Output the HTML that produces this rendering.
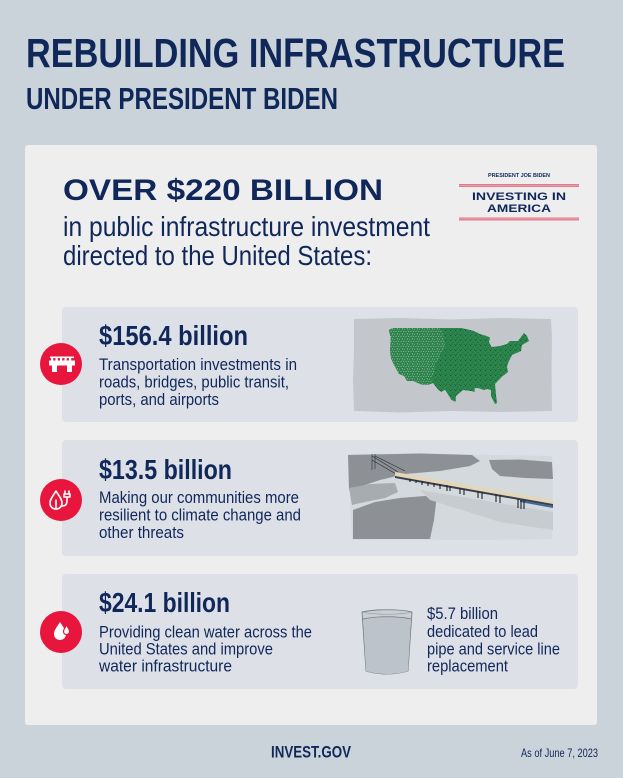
<!DOCTYPE html>
<html>
<head>
<meta charset="utf-8">
<style>
  html,body{margin:0;padding:0;background:#cbd3da;}
  svg{display:block;}
  .n{font-family:"Liberation Sans Narrow","Liberation Sans",sans-serif;fill:#10275a;}
  .w{font-family:"Liberation Sans",sans-serif;fill:#10275a;}
</style>
</head>
<body>
<svg width="623" height="778" viewBox="0 0 623 778" xmlns="http://www.w3.org/2000/svg">
  <defs>
    <pattern id="dots" width="5" height="5" patternUnits="userSpaceOnUse">
      <rect x="0" y="0" width="1.2" height="1.2" fill="#1d3566"/>
      <rect x="2.6" y="1.7" width="1" height="1" fill="#1d3566"/>
      <rect x="1.3" y="3.6" width="1" height="1" fill="#1d3566"/>
      <rect x="3.9" y="4" width="0.8" height="0.8" fill="#1d3566"/>
    </pattern>
    <pattern id="light" width="5" height="5" patternUnits="userSpaceOnUse">
      <rect x="0.4" y="0.6" width="1.1" height="1.1" fill="#d6dadc"/>
      <rect x="3" y="1.2" width="0.9" height="0.9" fill="#d6dadc"/>
      <rect x="1.8" y="3.3" width="1.1" height="1.1" fill="#d6dadc"/>
      <rect x="4" y="3.9" width="0.8" height="0.8" fill="#d6dadc"/>
    </pattern>
    <clipPath id="us">
      <path id="usp" d="M388.7,330 L393,328 L461,328 L466,329 L474,331 L480,334 L486.5,336 L490,337.6 L489,342 L491.5,347 L500,346 L507,344 L510,341 L518,341 L524,333 L527,336 L529,341 L522,345 L521,351 L512,355 L508.6,361.7 L507,366.5 L508,372 L502,376.6 L495,384 L496,395 L497,403 L495,404 L491,396 L491,390 L487,389 L484,390 L478,388 L474.5,388.3 L474.7,392 L471,391 L463,390 L456,396 L455.5,401.8 L451.5,400 L447.6,393.8 L445,389.6 L441.5,392 L438,389.6 L433,383 L429,384.8 L422,384.8 L413,381 L407,381 L404,376 L399,374 L394,365 L391,358.5 L390,350.5 L390.7,337.6 Z"/>
    </clipPath>
  </defs>

  <rect x="0" y="0" width="623" height="778" fill="#cbd3da"/>

  <text class="n" x="26" y="67" font-size="41" font-weight="bold" textLength="539" lengthAdjust="spacingAndGlyphs">REBUILDING INFRASTRUCTURE</text>
  <text class="n" x="26" y="109" font-size="31" font-weight="bold" textLength="312" lengthAdjust="spacingAndGlyphs">UNDER PRESIDENT BIDEN</text>

  <rect x="25" y="145" width="572" height="580" rx="3" fill="#eeeeef"/>

  <text class="w" x="63" y="200" font-size="30" font-weight="bold" textLength="320" lengthAdjust="spacingAndGlyphs">OVER $220 BILLION</text>
  <text class="n" x="63" y="236" font-size="28" textLength="367" lengthAdjust="spacingAndGlyphs">in public infrastructure investment</text>
  <text class="n" x="63" y="265" font-size="28" textLength="309" lengthAdjust="spacingAndGlyphs">directed to the United States:</text>

  <text class="n" x="488" y="177" font-size="5.6" font-weight="bold" textLength="62" lengthAdjust="spacingAndGlyphs">PRESIDENT JOE BIDEN</text>
  <rect x="459" y="184" width="120" height="3" fill="#e07b8e"/>
  <rect x="459" y="185" width="120" height="0.8" fill="#eea7b3"/>
  <text class="w" x="472" y="200" font-size="11" font-weight="bold" textLength="94" lengthAdjust="spacingAndGlyphs">INVESTING IN</text>
  <text class="w" x="487" y="212" font-size="11" font-weight="bold" textLength="64" lengthAdjust="spacingAndGlyphs">AMERICA</text>
  <rect x="459" y="217.5" width="120" height="3" fill="#e07b8e"/>
  <rect x="459" y="218.5" width="120" height="0.8" fill="#eea7b3"/>

  <!-- panel 1 -->
  <rect x="62" y="307" width="516" height="115" rx="4" fill="#dde0e7"/>
  <circle cx="61" cy="364" r="21" fill="#e8163c"/>
  <g fill="#ffffff">
    <rect x="50" y="356.5" width="24" height="1.6"/>
    <rect x="51" y="358" width="2.2" height="2.5"/>
    <rect x="55.5" y="358" width="2.2" height="2.5"/>
    <rect x="60" y="358" width="2.2" height="2.5"/>
    <rect x="64.5" y="358" width="2.2" height="2.5"/>
    <rect x="69" y="358" width="2.2" height="2.5"/>
    <rect x="49" y="360.5" width="26" height="5"/>
    <rect x="52" y="365" width="5" height="7"/>
    <rect x="67" y="365" width="5" height="7"/>
  </g>
  <text class="n" x="99" y="345" font-size="27.5" font-weight="bold" textLength="149" lengthAdjust="spacingAndGlyphs">$156.4 billion</text>
  <text class="n" x="99" y="370" font-size="17" textLength="198" lengthAdjust="spacingAndGlyphs">Transportation investments in</text>
  <text class="n" x="99" y="387.5" font-size="17" textLength="190" lengthAdjust="spacingAndGlyphs">roads, bridges, public transit,</text>
  <text class="n" x="99" y="405" font-size="17" textLength="120" lengthAdjust="spacingAndGlyphs">ports, and airports</text>

  <!-- map -->
  <path d="M354,319 L400,318 L450,319.5 L500,318 L551,319 L552,340 L551.5,370 L552,411 L500,412 L450,411 L400,412.5 L354,411 L353,380 L354,350 Z" fill="#c3c7cc"/>
  <use href="#usp" fill="#2b8a45"/>
  <g clip-path="url(#us)">
    <rect x="385" y="325" width="150" height="85" fill="url(#dots)" opacity="0.7"/>
    <path d="M386,326 L440,326 L446,345 L436,365 L430,386 L386,386 Z" fill="url(#light)" opacity="0.7"/>
  </g>

  <!-- panel 2 -->
  <rect x="62" y="440" width="516" height="116" rx="4" fill="#dde0e7"/>
  <circle cx="61" cy="500" r="21" fill="#e8163c"/>
  <g fill="none" stroke="#ffffff" stroke-width="1.6" stroke-linecap="round" stroke-linejoin="round">
    <path d="M56,491 C53,496 50,499 50,503 C50,507 53,509 56,509 C59,509 62,507 62,503 C62,499 59,496 56,491 Z"/>
    <path d="M56,500 L56,509"/>
    <path d="M62,506 C66,506 67,504 67,500 L67,497"/>
    <path d="M64,497 L70,497 L70,494 L64,494 Z"/>
    <path d="M65,494 L65,491 M69,494 L69,491"/>
  </g>
  <text class="n" x="99" y="479" font-size="27.5" font-weight="bold" textLength="133" lengthAdjust="spacingAndGlyphs">$13.5 billion</text>
  <text class="n" x="99" y="503" font-size="17" textLength="200" lengthAdjust="spacingAndGlyphs">Making our communities more</text>
  <text class="n" x="99" y="520.5" font-size="17" textLength="202" lengthAdjust="spacingAndGlyphs">resilient to climate change and</text>
  <text class="n" x="99" y="538" font-size="17" textLength="85" lengthAdjust="spacingAndGlyphs">other threats</text>

  <!-- bridge picture -->
  <path d="M349,454 L420,453 L490,455 L552,456 L553,500 L552,539 L480,540 L400,539.5 L352,540 L350,500 Z" fill="#d3d9dc"/>
  <path d="M348,455 L420,453.5 L472,455 L480,461 L470,466 L440,471 L405,474 L380,480 L362,486 L349,490 Z" fill="#8d9195"/>
  <path d="M349,488 L370,484 L395,483 L398,492 L385,498 L365,502 L352,505 Z" fill="#a7acaf"/>
  <path d="M489,460 L520,459.5 L552,462 L553,479 L525,478 L500,476 L492,469 Z" fill="#8d9195"/>
  <path d="M353,510 L375,502 L400,498 L437,495 L434,520 L430,539 L353,539 Z" fill="#8d9195"/>
  <path d="M420,490 L553,512 L553,530 L500,522 L430,500 Z" fill="#c6ccd0"/>
  <g stroke="#2a2f3a" stroke-width="0.6" fill="none">
    <path d="M372,454 L372,470 M375,454 L375,469"/>
    <path d="M372,456 L398,472 M375,456 L405,471 M372,460 L396,474"/>
  </g>
  <path d="M395,472 L553,500 L553,504 L395,476 Z" fill="#e4d6b9"/>
  <path d="M395,476 L553,504 L553,506 L395,478 Z" fill="#3a3f4a"/>
  <path d="M520,500 L553,506 L553,508 L520,502 Z" fill="#3d6a9c"/>
  <g stroke="#1e2230" stroke-width="1.1">
    <path d="M410,479 L410,482 M416,480 L416,483 M422,481 L422,485 M428,482 L428,486 M434,483 L434,487 M440,484 L440,489 M447,485 L447,491 M450,486 L450,491 M460,488 L460,494 M464,489 L464,495 M478,491 L478,498 M482,492 L482,499 M496,494 L496,502 M500,495 L500,503 M518,499 L518,508 M521,500 L521,509 M524,500 L524,509"/>
  </g>

  <!-- panel 3 -->
  <rect x="62" y="574" width="516" height="115" rx="4" fill="#dde0e7"/>
  <circle cx="61" cy="632" r="21" fill="#e8163c"/>
  <path d="M60,622 C57,627 54,630 54,634 C54,638 57,640 60,640 C63,640 66,638 66,634 C66,630 63,627 60,622 Z" fill="#ffffff"/>
  <path d="M66.5,625 C65,628 63.5,629.5 63.5,631.5 C63.5,633.5 65,634.5 66.5,634.5 C68,634.5 69.5,633.5 69.5,631.5 C69.5,629.5 68,628 66.5,625 Z" fill="#ffffff" stroke="#e8163c" stroke-width="1.2"/>
  <text class="n" x="99" y="612" font-size="27.5" font-weight="bold" textLength="131" lengthAdjust="spacingAndGlyphs">$24.1 billion</text>
  <text class="n" x="99" y="637.3" font-size="17" textLength="213" lengthAdjust="spacingAndGlyphs">Providing clean water across the</text>
  <text class="n" x="99" y="654.3" font-size="17" textLength="174" lengthAdjust="spacingAndGlyphs">United States and improve</text>
  <text class="n" x="99" y="671.7" font-size="17" textLength="133" lengthAdjust="spacingAndGlyphs">water infrastructure</text>

  <!-- glass -->
  <path d="M362,612 C375,609 400,609 412,612 L408,671 C395,675 378,675 366,671 Z" fill="#c9d0d5" stroke="#6f757c" stroke-width="0.8"/>
  <path d="M363,619 C376,616 399,616 411,619 L408,671 C395,675 378,675 366,671 Z" fill="#bcc3ca"/>
  <path d="M363,619 C376,616 399,616 411,619" fill="none" stroke="#6f757c" stroke-width="0.7"/>
  <path d="M362,612 C375,615 400,615 412,612" fill="none" stroke="#8b9096" stroke-width="0.6"/>

  <text class="n" x="427" y="619" font-size="17" textLength="71" lengthAdjust="spacingAndGlyphs">$5.7 billion</text>
  <text class="n" x="427" y="637" font-size="17" textLength="111" lengthAdjust="spacingAndGlyphs">dedicated to lead</text>
  <text class="n" x="427" y="654.3" font-size="17" textLength="133" lengthAdjust="spacingAndGlyphs">pipe and service line</text>
  <text class="n" x="427" y="671.7" font-size="17" textLength="81" lengthAdjust="spacingAndGlyphs">replacement</text>

  <text class="n" x="271" y="757.7" font-size="16.5" font-weight="bold" textLength="80" lengthAdjust="spacingAndGlyphs">INVEST.GOV</text>
  <text class="n" x="521" y="757" font-size="12" textLength="77" lengthAdjust="spacingAndGlyphs">As of June 7, 2023</text>
</svg>
</body>
</html>
